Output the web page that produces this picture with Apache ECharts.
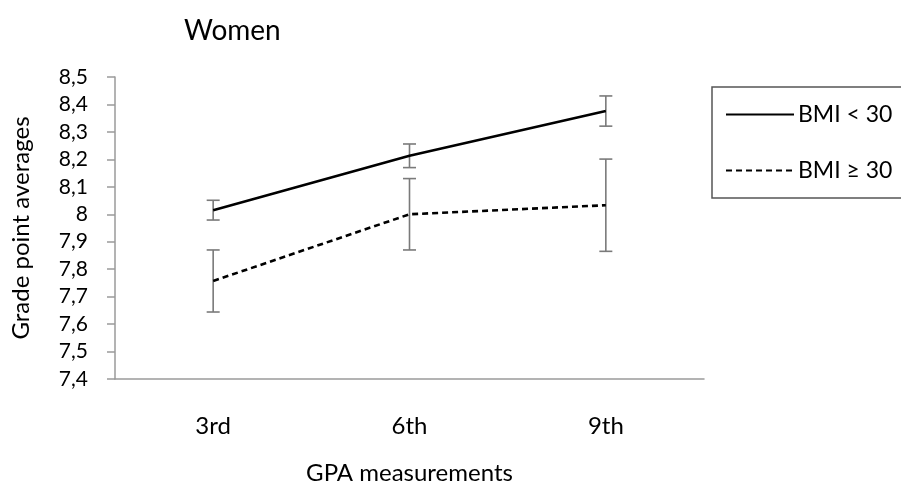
<!DOCTYPE html>
<html>
<head>
<meta charset="utf-8">
<script src="https://cdn.jsdelivr.net/npm/echarts@6/dist/echarts.min.js"></script>
<style>html,body{margin:0;padding:0;background:#fff}#c{width:901px;height:486px}</style>
</head>
<body>
<div id="c"></div>
<script>
const categories = ['3rd', '6th', '9th'];
const bmiUnder = [8.015, 8.213, 8.376];
const bmiUnderErr = [0.036, 0.043, 0.055];
const bmiOver = [7.757, 8.0, 8.033];
const bmiOverErr = [0.113, 0.13, 0.168];
const seriesNames = ['BMI < 30', 'BMI \u2265 30'];

const FONT = 'Lato';
const chart = echarts.init(document.getElementById('c'));

function errData(vals, errs) {
  return vals.map((v, i) => [i, v - errs[i], v + errs[i]]);
}
function renderErr(params, api) {
  const x = api.value(0);
  const lo = api.coord([x, api.value(1)]);
  const hi = api.coord([x, api.value(2)]);
  const cap = 6.5;
  const st = { stroke: '#7a7a7a', lineWidth: 1.6 };
  return {
    type: 'group',
    children: [
      { type: 'line', shape: { x1: lo[0], y1: lo[1], x2: hi[0], y2: hi[1] }, style: st },
      { type: 'line', shape: { x1: lo[0] - cap, y1: lo[1], x2: lo[0] + cap, y2: lo[1] }, style: st },
      { type: 'line', shape: { x1: hi[0] - cap, y1: hi[1], x2: hi[0] + cap, y2: hi[1] }, style: st }
    ]
  };
}

chart.setOption({
  animation: false,
  title: {
    text: 'Women', left: 179, top: 12,
    textStyle: { fontFamily: FONT, fontSize: 28, fontWeight: 'normal', color: '#000' }
  },
  legend: {
    orient: 'vertical', left: 712, top: 87,
    data: seriesNames,
    itemWidth: 68, itemHeight: 14, itemGap: 33,
    padding: [16, 40, 16, 13],
    borderColor: '#555', borderWidth: 1.5,
    itemStyle: { opacity: 0 },
    textStyle: { fontFamily: FONT, fontSize: 23, color: '#000', padding: [0, 0, 0, -1] }
  },
  grid: { left: 115, right: 197, top: 77, bottom: 107, outerBoundsMode: 'none', containLabel: false },
  xAxis: {
    type: 'category', data: categories, boundaryGap: true,
    name: 'GPA measurements', nameLocation: 'middle', nameGap: 82,
    nameTextStyle: { fontFamily: FONT, fontSize: 24, color: '#000' },
    axisLine: { lineStyle: { color: '#9a9a9a', width: 1.5 } },
    axisTick: { show: false },
    axisLabel: { fontFamily: FONT, fontSize: 24, color: '#000', margin: 35 }
  },
  yAxis: {
    type: 'value', min: 7.4, max: 8.5, interval: 0.1,
    name: 'Grade point averages', nameLocation: 'middle', nameGap: 82, nameRotate: 90,
    nameTextStyle: { fontFamily: FONT, fontSize: 24, color: '#000' },
    axisLine: { show: true, lineStyle: { color: '#9a9a9a', width: 1.5 } },
    axisTick: { show: true, length: 8, lineStyle: { color: '#9a9a9a', width: 1.5 } },
    splitLine: { show: false },
    axisLabel: {
      fontFamily: FONT, fontSize: 21, color: '#000', margin: 27,
      formatter: v => String(+(+v).toFixed(1)).replace('.', ',')
    }
  },
  series: [
    {
      name: seriesNames[0], type: 'line', data: bmiUnder, symbol: 'none',
      lineStyle: { color: '#000', width: 2.6, type: 'solid' }, itemStyle: { color: '#000' }, z: 3
    },
    {
      name: seriesNames[1], type: 'line', data: bmiOver, symbol: 'none',
      lineStyle: { color: '#000', width: 2.6, type: [6, 4] }, itemStyle: { color: '#000' }, z: 3
    },
    { type: 'custom', renderItem: renderErr, data: errData(bmiUnder, bmiUnderErr), z: 2 },
    { type: 'custom', renderItem: renderErr, data: errData(bmiOver, bmiOverErr), z: 2 }
  ]
});
</script>
</body>
</html>
